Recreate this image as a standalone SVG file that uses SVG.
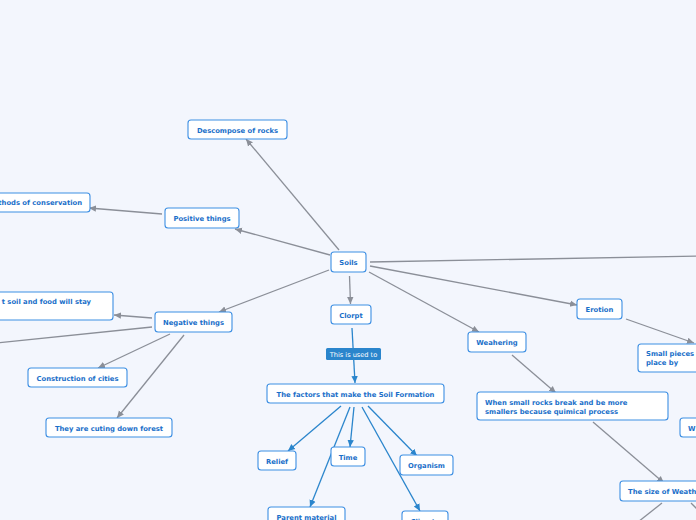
<svg xmlns="http://www.w3.org/2000/svg" width="696" height="520" viewBox="0 0 696 520">
<style>
.bg{fill:#f3f6fd}
.n rect{fill:#ffffff;stroke:#3d8fe3;stroke-width:1.1}
.n text{font-family:"DejaVu Sans",Verdana,sans-serif;font-weight:bold;font-size:6.8px;fill:#1a6fc9}
.c{text-anchor:middle}
.g{stroke:#8b8f98;stroke-width:1.3;fill:none}
.b{stroke:#2a85cc;stroke-width:1.3;fill:none}
.lbl{font-family:"DejaVu Sans",Verdana,sans-serif;font-size:6.6px;fill:#ffffff;text-anchor:middle}
</style>
<defs>
<marker id="ag" markerWidth="8" markerHeight="8" refX="7" refY="4" orient="auto" markerUnits="userSpaceOnUse"><path d="M0,0.8 L7,4 L0,7.2 Z" fill="#8b8f98"/></marker>
<marker id="ab" markerWidth="8" markerHeight="8" refX="7" refY="4" orient="auto" markerUnits="userSpaceOnUse"><path d="M0,0.8 L7,4 L0,7.2 Z" fill="#2a85cc"/></marker>
</defs>
<rect class="bg" x="0" y="0" width="696" height="520"/>
<g id="connectors">
<line class="g" x1="339" y1="250" x2="246" y2="139" marker-end="url(#ag)"/>
<line class="g" x1="330" y1="255" x2="235" y2="229" marker-end="url(#ag)"/>
<line class="g" x1="162" y1="214" x2="89" y2="208" marker-end="url(#ag)"/>
<line class="g" x1="329" y1="270" x2="219" y2="312" marker-end="url(#ag)"/>
<line class="g" x1="152" y1="318" x2="114" y2="315" marker-end="url(#ag)"/>
<line class="g" x1="152" y1="327" x2="-4" y2="343"/>
<line class="g" x1="170" y1="334" x2="98" y2="368" marker-end="url(#ag)"/>
<line class="g" x1="184" y1="335" x2="117" y2="418" marker-end="url(#ag)"/>
<line class="g" x1="349.5" y1="276" x2="350.5" y2="304" marker-end="url(#ag)"/>
<line class="g" x1="370" y1="262" x2="700" y2="256"/>
<line class="g" x1="370" y1="266" x2="577" y2="305" marker-end="url(#ag)"/>
<line class="g" x1="369" y1="272" x2="479" y2="332" marker-end="url(#ag)"/>
<line class="g" x1="626" y1="319" x2="694" y2="343" marker-end="url(#ag)"/>
<line class="g" x1="512" y1="355" x2="556" y2="393" marker-end="url(#ag)"/>
<line class="g" x1="593" y1="422" x2="664" y2="483" marker-end="url(#ag)"/>
<line class="g" x1="662" y1="503" x2="638" y2="522"/>
<line class="g" x1="691" y1="503" x2="698" y2="510"/>
<line class="b" x1="352" y1="328" x2="355" y2="383" marker-end="url(#ab)"/>
<line class="b" x1="341" y1="406" x2="288" y2="451" marker-end="url(#ab)"/>
<line class="b" x1="354" y1="407" x2="350" y2="447" marker-end="url(#ab)"/>
<line class="b" x1="350" y1="407" x2="310" y2="507" marker-end="url(#ab)"/>
<line class="b" x1="362" y1="407" x2="420" y2="511" marker-end="url(#ab)"/>
<line class="b" x1="368" y1="406" x2="417" y2="456" marker-end="url(#ab)"/>
<g id="label-used">
<rect x="326" y="348" width="55" height="12" rx="1.5" fill="#2a85cc"/>
<text class="lbl" x="353.5" y="356.5">This is used to</text>
</g>
</g>
<g id="n-soils" class="n"><rect x="331" y="252" width="35" height="20" rx="3"/><text class="c" x="348.5" y="264.5">Soils</text></g>
<g id="n-descompose" class="n"><rect x="188" y="120" width="99" height="19" rx="3"/><text class="c" x="237.5" y="132.5">Descompose of rocks</text></g>
<g id="n-positive" class="n"><rect x="165" y="208" width="74" height="20" rx="3"/><text class="c" x="202" y="220.5">Positive things</text></g>
<g id="n-methods" class="n"><rect x="-20" y="193" width="110" height="19" rx="3"/><text x="82" y="205" text-anchor="end">Methods of conservation</text></g>
<g id="n-negative" class="n"><rect x="155" y="312" width="77" height="20" rx="3"/><text class="c" x="193.5" y="324.5">Negative things</text></g>
<g id="n-stay" class="n"><rect x="-20" y="292" width="133" height="28" rx="3"/><text x="91" y="304" text-anchor="end">t soil and food will stay</text></g>
<g id="n-construction" class="n"><rect x="28" y="368" width="99" height="19" rx="3"/><text class="c" x="77.5" y="380.5">Construction of cities</text></g>
<g id="n-forest" class="n"><rect x="46" y="418" width="126" height="19" rx="3"/><text class="c" x="109" y="430.5">They are cuting down forest</text></g>
<g id="n-clorpt" class="n"><rect x="331" y="305" width="40" height="19" rx="3"/><text class="c" x="351" y="317.5">Clorpt</text></g>
<g id="n-factors" class="n"><rect x="267" y="384" width="177" height="19" rx="3"/><text class="c" x="355.5" y="396.5">The factors that make the Soil Formation</text></g>
<g id="n-relief" class="n"><rect x="258" y="451" width="38" height="19" rx="3"/><text class="c" x="277" y="463.5">Relief</text></g>
<g id="n-time" class="n"><rect x="331" y="447" width="34" height="19" rx="3"/><text class="c" x="348" y="459.5">Time</text></g>
<g id="n-organism" class="n"><rect x="400" y="455" width="53" height="20" rx="3"/><text class="c" x="426.5" y="467.5">Organism</text></g>
<g id="n-parent" class="n"><rect x="268" y="507" width="77" height="22" rx="3"/><text class="c" x="306.5" y="519.5">Parent material</text></g>
<g id="n-climate" class="n"><rect x="402" y="511" width="46" height="20" rx="3"/><text class="c" x="425" y="524">Climate</text></g>
<g id="n-weahering" class="n"><rect x="468" y="332" width="58" height="20" rx="3"/><text class="c" x="497" y="344.5">Weahering</text></g>
<g id="n-erotion" class="n"><rect x="577" y="299" width="45" height="20" rx="3"/><text class="c" x="599.5" y="311.5">Erotion</text></g>
<g id="n-smallpieces" class="n"><rect x="638" y="344" width="80" height="28" rx="3"/><text x="646" y="356">Small pieces</text><text x="646" y="364.5">place by</text></g>
<g id="n-whensmall" class="n"><rect x="477" y="392" width="191" height="28" rx="3"/><text x="485" y="405">When small rocks break and be more</text><text x="485" y="413.5">smallers because quimical process</text></g>
<g id="n-w" class="n"><rect x="680" y="418" width="40" height="19" rx="3"/><text x="688" y="430.5">W</text></g>
<g id="n-size" class="n"><rect x="620" y="481" width="100" height="20" rx="3"/><text x="628" y="493.5">The size of Weathering</text></g>
</svg>
